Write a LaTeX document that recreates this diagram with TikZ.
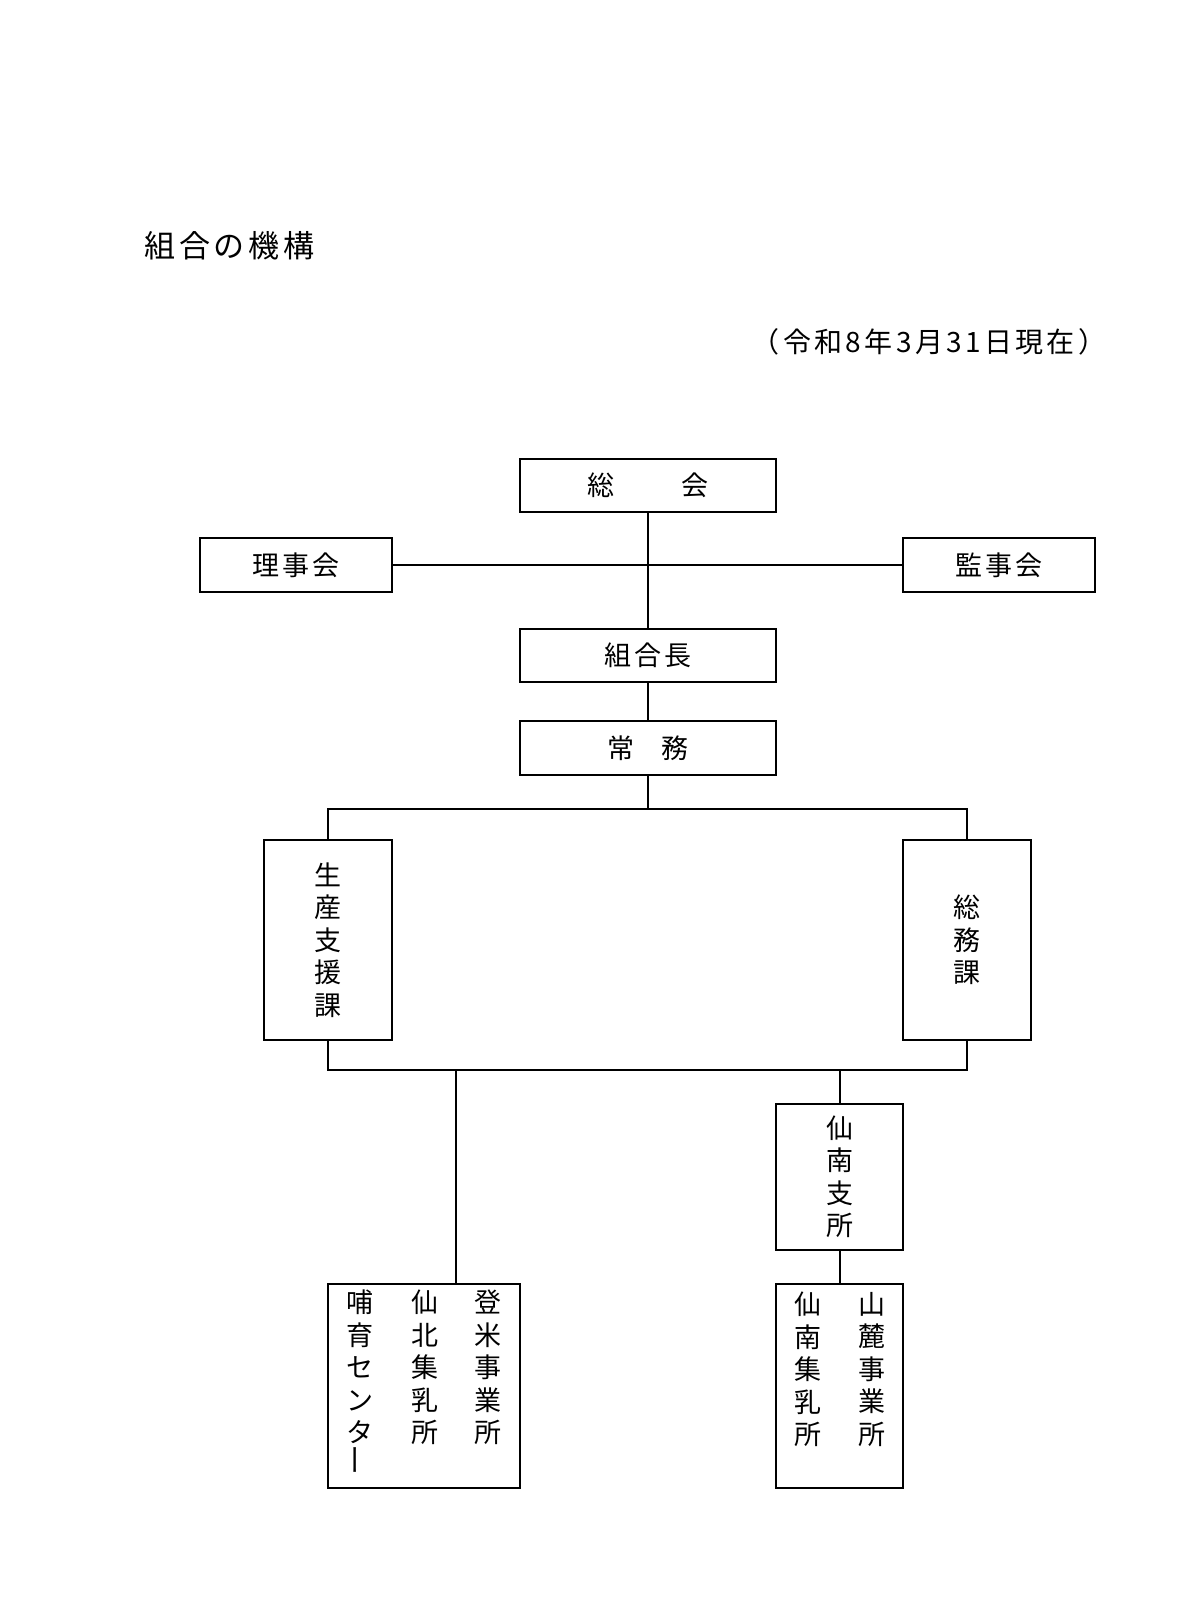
\documentclass[tikz,border=0pt]{standalone}
\usepackage{fontspec}
\setmainfont{Noto Sans CJK JP}[LetterSpace=12]
\begin{document}
\begin{tikzpicture}[x=1pt,y=-1pt,
  box/.style={draw,line width=2pt,inner sep=0pt,align=center,font=\fontsize{27}{32.5}\selectfont},
  col/.style={inner sep=0pt,align=center,anchor=north,font=\fontsize{27}{32.5}\selectfont},
  conn/.style={line width=2pt}]
\useasboundingbox[fill=white] (0,0) rectangle (1200,1607);
% titles
\node[inner sep=0pt,font=\fontsize{31}{31}\selectfont] (title) at (229.5,246) {組合の機構};
\node[inner sep=0pt,font=\fontsize{28}{28}\selectfont] (date) at (929,342) {（令和8年3月31日現在）};
% boxes
\node[box,minimum width=256pt,minimum height=53pt] (soukai) at (648,485.5) {総\hspace{67pt}会};
\node[box,minimum width=192pt,minimum height=54pt] (riji) at (296,565) {理事会};
\node[box,minimum width=192pt,minimum height=54pt] (kanji) at (999,565) {監事会};
\node[box,minimum width=256pt,minimum height=53pt] (cho) at (648,655.5) {組合長};
\node[box,minimum width=256pt,minimum height=54pt] (jomu) at (648,748) {常\hspace{27pt}務};
\node[box,minimum width=128pt,minimum height=200pt] (seisan) at (328,940) {生\\産\\支\\援\\課};
\node[box,minimum width=128pt,minimum height=200pt] (somu) at (967,940) {総\\務\\課};
\node[box,minimum width=127pt,minimum height=146pt] (shisho) at (839.5,1177) {仙\\南\\支\\所};
\node[box,minimum width=127pt,minimum height=204pt] (sbox) at (839.5,1386) {};
\node[box,minimum width=192pt,minimum height=204pt] (lbox) at (424,1386) {};
% columns
\node[col] (sanroku) at (872,1292) {山\\麓\\事\\業\\所};
\node[col] (sennan) at (808,1292) {仙\\南\\集\\乳\\所};
\node[col] (tome) at (488,1290) {登\\米\\事\\業\\所};
\node[col] (senboku) at (425,1290) {仙\\北\\集\\乳\\所};
\node[col] (hoiku) at (360,1290) {哺\\育\\セ\\ン\\タ\\\raisebox{9pt}{\scalebox{1}[1.15]{\rotatebox[origin=c]{90}{ー}}}};
% coordinates
\coordinate (jt) at (648,809);
\coordinate (jl) at (328,809);
\coordinate (jr) at (967,809);
\coordinate (bl) at (328,1070);
\coordinate (br) at (967,1070);
\coordinate (bx1) at (456,1070);
\coordinate (bx2) at (839.5,1070);
% connectors
\draw[conn] (soukai.south) -- (cho.north);
\draw[conn] (riji.east) -- (kanji.west);
\draw[conn] (cho.south) -- (jomu.north);
\draw[conn] (jomu.south) -- (jt);
\draw[conn] (seisan.north) -- (jl) -- (jr) -- (somu.north);
\draw[conn] (seisan.south) -- (bl) -- (br) -- (somu.south);
\draw[conn] (bx1) -- (bx1 |- lbox.north);
\draw[conn] (bx2) -- (shisho.north);
\draw[conn] (shisho.south) -- (sbox.north);
\end{tikzpicture}
\end{document}
